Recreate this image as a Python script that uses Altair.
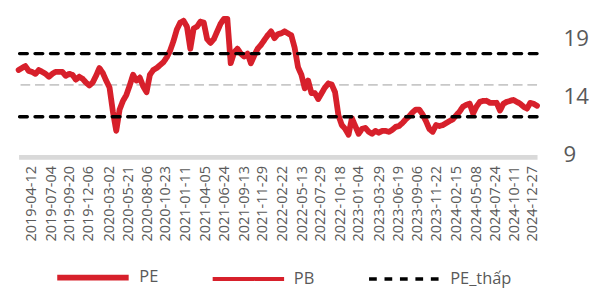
import altair as alt
import pandas as pd

# PE readings, every 14 days from the start date
start_date = "2019-02-22"
pe_values = [
    16.33, 16.50, 16.67, 16.25, 16.17, 16.00, 16.33, 16.17, 16.00, 15.75,
    16.00, 16.17, 16.17, 16.17, 15.83, 16.00, 15.92, 15.50, 15.75, 15.58,
    15.25, 15.00, 15.25, 15.83, 16.50, 16.08, 15.42, 14.83, 12.75, 11.08,
    12.92, 13.67, 14.17, 15.00, 15.92, 15.42, 15.67, 14.92, 14.42, 15.92,
    16.33, 16.50, 16.75, 17.00, 17.42, 18.00, 18.83, 19.83, 20.42, 20.58,
    20.08, 18.17, 19.92, 20.08, 20.50, 20.42, 19.00, 18.67, 19.00, 19.67,
    20.33, 20.75, 20.75, 16.92, 17.83, 18.17, 17.75, 17.50, 17.75, 16.92,
    17.58, 18.17, 18.50, 18.92, 19.33, 19.67, 19.08, 19.42, 19.50, 19.67,
    19.50, 19.33, 18.25, 16.58, 15.92, 14.75, 15.42, 14.33, 14.33, 13.83,
    14.33, 14.83, 15.17, 15.08, 14.42, 12.42, 11.58, 11.25, 10.75, 12.17,
    11.50, 10.83, 11.25, 11.33, 11.00, 10.83, 11.08, 10.92, 11.08, 11.08,
    11.00, 11.17, 11.42, 11.50, 11.75, 12.08, 12.33, 12.67, 12.92, 12.92,
    12.50, 11.92, 11.25, 11.00, 11.58, 11.50, 11.58, 11.75, 11.92, 12.08,
    12.42, 12.75, 13.17, 13.33, 13.42, 12.58, 13.17, 13.58, 13.67, 13.67,
    13.50, 13.50, 13.50, 12.83, 13.42, 13.58, 13.67, 13.75, 13.58, 13.42,
    13.17, 13.00, 13.50, 13.42, 13.25,
]
pe_cao = 17.75
pe_thap = 12.3
pe_tb = 15.05

tick_dates = [
    "2019-04-12", "2019-07-04", "2019-09-20", "2019-12-06", "2020-03-02",
    "2020-05-21", "2020-08-06", "2020-10-23", "2021-01-11", "2021-04-05",
    "2021-06-24", "2021-09-13", "2021-11-29", "2022-02-22", "2022-05-13",
    "2022-07-29", "2022-10-18", "2023-01-04", "2023-03-29", "2023-06-19",
    "2023-09-06", "2023-11-22", "2024-02-15", "2024-05-08", "2024-07-24",
    "2024-10-11", "2024-12-27",
]
y_ticks = [9, 14, 19]

series_names = ["PE", "PB", "PE_thấp"]
series_colors = ["#D7202B", "#D7202B", "#000000"]
series_dash = [[1, 0], [1, 0], [8, 8]]
series_width = [6, 4, 3.5]

dates = pd.date_range(start_date, periods=len(pe_values), freq="14D")
df_pe = pd.DataFrame({"date": dates, "value": pe_values, "series": "PE"})
df_thap = pd.DataFrame({"value": [pe_thap], "series": ["PE_thấp"]})
df_cao = pd.DataFrame({"value": [pe_cao]})
df_tb = pd.DataFrame({"value": [pe_tb]})

tick_values = []
for d in tick_dates:
    yy, mm, dd = (int(p) for p in d.split("-"))
    tick_values.append(alt.DateTime(year=yy, month=mm, date=dd))

legend = alt.Legend(
    title=None, orient="none", legendX=37, legendY=231,
    direction="horizontal", symbolType="stroke", symbolSize=5476,
    labelFontSize=17, labelColor="#595959", labelOffset=8,
    gridAlign="all", columnPadding=6,
)
color_enc = alt.Color("series:N", scale=alt.Scale(domain=series_names, range=series_colors), legend=legend)
dash_enc = alt.StrokeDash("series:N", scale=alt.Scale(domain=series_names, range=series_dash), legend=legend)
width_enc = alt.StrokeWidth("series:N", scale=alt.Scale(type="ordinal", domain=series_names, range=series_width), legend=legend)

y_scale = alt.Scale(domain=[9, 21], nice=False, zero=False)
y_axis = alt.Axis(orient="right", values=y_ticks, grid=False, domain=False, ticks=False,
                  labelFontSize=23, labelColor="#595959", labelPadding=27, title=None)
x_axis = alt.Axis(values=tick_values, format="%Y-%m-%d", labelAngle=270, grid=False, ticks=False,
                  domainColor="#D9D9D9", domainWidth=5, labelFontSize=15, labelColor="#595959",
                  labelPadding=9, title=None, labelOverlap=False, offset=2)

base_x = alt.X("date:T", axis=x_axis)

mean_rule = alt.Chart(df_tb).mark_rule(color="#C8C8C8", strokeWidth=2, strokeDash=[10, 5]).encode(
    y=alt.Y("value:Q", scale=y_scale, axis=y_axis)
)
pe_line = alt.Chart(df_pe).mark_line(strokeCap="round", strokeJoin="round").encode(
    x=base_x,
    y=alt.Y("value:Q", scale=y_scale, axis=y_axis),
    color=color_enc, strokeDash=dash_enc, strokeWidth=width_enc,
)
cao_rule = alt.Chart(df_cao).mark_rule(color="#000000", strokeWidth=3.5, strokeDash=[8, 8], strokeCap="round").encode(
    y=alt.Y("value:Q", scale=y_scale, axis=y_axis)
)
thap_rule = alt.Chart(df_thap).mark_rule(strokeCap="round").encode(
    y=alt.Y("value:Q", scale=y_scale, axis=y_axis),
    color=color_enc, strokeDash=dash_enc, strokeWidth=width_enc,
)

chart = alt.layer(mean_rule, pe_line, cao_rule, thap_rule).properties(
    width=537, height=144, padding={"left": 8, "top": 3, "right": 5, "bottom": 5}
).configure(font="Open Sans").configure_view(stroke=None)

chart.save("out.html", embed_options={"renderer": "svg", "actions": False})
